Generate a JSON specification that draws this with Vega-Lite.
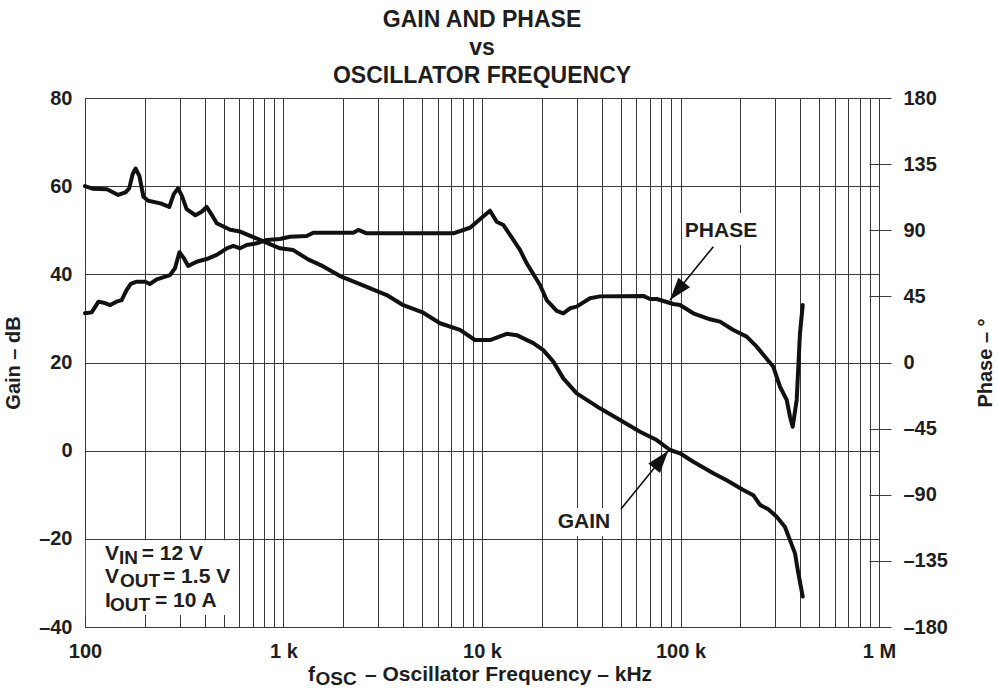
{
  "$schema": "https://vega.github.io/schema/vega-lite/v6.json",
  "width": 794,
  "height": 529,
  "autosize": "none",
  "padding": {"left": 85, "top": 98, "right": 119, "bottom": 62},
  "background": "white",
  "config": {
    "view": {"stroke": "#222", "strokeWidth": 1},
    "font": "Liberation Sans"
  },
  "title": {
    "text": ["GAIN AND PHASE", "vs", "OSCILLATOR FREQUENCY"],
    "font": "Liberation Sans",
    "fontSize": 23,
    "fontWeight": "bold",
    "color": "#1e1e1e",
    "lineHeight": 28,
    "anchor": "middle",
    "frame": "group",
    "offset": 0
  },
  "datasets": {
    "gain": [
      {"f": 100, "g": 60.0}, {"f": 110, "g": 59.4}, {"f": 129, "g": 59.3}, {"f": 147, "g": 58.0},
      {"f": 160, "g": 58.6}, {"f": 167, "g": 59.5}, {"f": 174, "g": 62.8}, {"f": 180, "g": 64.0},
      {"f": 188, "g": 62.3}, {"f": 197, "g": 57.6}, {"f": 208, "g": 56.7}, {"f": 240, "g": 56.1},
      {"f": 266, "g": 55.3}, {"f": 280, "g": 58.2}, {"f": 294, "g": 59.5}, {"f": 307, "g": 57.9},
      {"f": 325, "g": 54.8}, {"f": 360, "g": 53.4}, {"f": 387, "g": 54.2}, {"f": 410, "g": 55.3},
      {"f": 435, "g": 53.5}, {"f": 461, "g": 51.6}, {"f": 538, "g": 50.1}, {"f": 604, "g": 49.7},
      {"f": 761, "g": 47.8}, {"f": 960, "g": 45.9}, {"f": 1120, "g": 45.5}, {"f": 1330, "g": 43.4},
      {"f": 1587, "g": 41.8}, {"f": 1926, "g": 39.6}, {"f": 2429, "g": 37.8}, {"f": 3311, "g": 35.3},
      {"f": 4013, "g": 33.0}, {"f": 5060, "g": 31.3}, {"f": 6143, "g": 28.9}, {"f": 7747, "g": 27.4},
      {"f": 9220, "g": 25.1}, {"f": 10970, "g": 25.1}, {"f": 13320, "g": 26.5}, {"f": 14950, "g": 26.2},
      {"f": 18130, "g": 24.4}, {"f": 20360, "g": 22.8}, {"f": 22870, "g": 20.2}, {"f": 25680, "g": 16.4},
      {"f": 30000, "g": 13.0}, {"f": 39300, "g": 9.6}, {"f": 49580, "g": 6.95}, {"f": 62520, "g": 4.3},
      {"f": 75890, "g": 2.4}, {"f": 88530, "g": 0.15}, {"f": 99430, "g": -0.6}, {"f": 116000, "g": -2.5},
      {"f": 146300, "g": -5.1}, {"f": 170900, "g": -6.7}, {"f": 207200, "g": -8.9}, {"f": 232700, "g": -10.1},
      {"f": 251500, "g": -12.3}, {"f": 276900, "g": -13.3}, {"f": 305200, "g": -15.0}, {"f": 336100, "g": -17.3},
      {"f": 356100, "g": -20.3}, {"f": 377500, "g": -23.3}, {"f": 392200, "g": -27.8}, {"f": 412800, "g": -33.1}
    ],
    "phase": [
      {"f": 100, "p": 33.5}, {"f": 108, "p": 34.1}, {"f": 117, "p": 41.4}, {"f": 124, "p": 40.7},
      {"f": 134, "p": 39.1}, {"f": 144, "p": 41.4}, {"f": 153, "p": 42.5}, {"f": 162, "p": 49.3},
      {"f": 170, "p": 53.5}, {"f": 182, "p": 55.0}, {"f": 201, "p": 55.0}, {"f": 212, "p": 53.4},
      {"f": 230, "p": 56.6}, {"f": 268, "p": 59.5}, {"f": 284, "p": 64.1}, {"f": 299, "p": 75.0},
      {"f": 315, "p": 70.9}, {"f": 331, "p": 65.7}, {"f": 365, "p": 68.6}, {"f": 410, "p": 70.4},
      {"f": 461, "p": 73.2}, {"f": 518, "p": 77.7}, {"f": 559, "p": 79.3}, {"f": 604, "p": 77.7},
      {"f": 653, "p": 80.0}, {"f": 733, "p": 81.1}, {"f": 823, "p": 83.4}, {"f": 960, "p": 84.0},
      {"f": 1078, "p": 85.6}, {"f": 1309, "p": 86.1}, {"f": 1413, "p": 88.3}, {"f": 2247, "p": 88.3},
      {"f": 2381, "p": 90.2}, {"f": 2625, "p": 87.9}, {"f": 7167, "p": 87.9}, {"f": 8700, "p": 91.7},
      {"f": 9965, "p": 98.5}, {"f": 10970, "p": 103.3}, {"f": 11860, "p": 95.8}, {"f": 12800, "p": 93.6},
      {"f": 13840, "p": 86.8}, {"f": 15540, "p": 76.6}, {"f": 16800, "p": 67.5}, {"f": 19600, "p": 52.7},
      {"f": 21180, "p": 42.5}, {"f": 23790, "p": 35.2}, {"f": 25680, "p": 33.5}, {"f": 27750, "p": 36.9},
      {"f": 30000, "p": 38.0}, {"f": 34990, "p": 43.7}, {"f": 39300, "p": 45.0}, {"f": 64960, "p": 45.3},
      {"f": 70200, "p": 43.2}, {"f": 75890, "p": 43.2}, {"f": 91980, "p": 39.8}, {"f": 99430, "p": 39.1},
      {"f": 116000, "p": 33.5}, {"f": 140800, "p": 29.4}, {"f": 158100, "p": 27.8}, {"f": 184500, "p": 22.1},
      {"f": 215500, "p": 17.6}, {"f": 242100, "p": 10.75}, {"f": 293500, "p": -2.9}, {"f": 317200, "p": -16.5},
      {"f": 342800, "p": -25.5}, {"f": 356100, "p": -36.9}, {"f": 367500, "p": -43.7}, {"f": 384900, "p": -25.5},
      {"f": 392200, "p": -2.9}, {"f": 399900, "p": 19.9}, {"f": 412800, "p": 39.1}
    ],
    "boxes": [
      {"f": 101, "f2": 580, "g": -20.3, "g2": -37.3},
      {"f": 23320, "f2": 46780, "g": -13.0, "g2": -19.4},
      {"f": 102900, "f2": 257500, "g": 46.65, "g2": 53.9}
    ],
    "textMain": [
      {"f": 126.1, "g": -24.8, "t": "V"}, {"f": 193.1, "g": -24.8, "t": "= 12 V"},
      {"f": 126.1, "g": -30.0, "t": "V"}, {"f": 247.2, "g": -30.0, "t": "= 1.5 V"},
      {"f": 126.1, "g": -35.5, "t": "I"}, {"f": 225.2, "g": -35.5, "t": "= 10 A"},
      {"f": 1328, "g": -52.3, "t": "f"}, {"f": 2574, "g": -52.3, "t": "– Oscillator Frequency – kHz"}
    ],
    "textSub": [
      {"f": 148.3, "g": -24.8, "t": "IN"}, {"f": 150.1, "g": -30.0, "t": "OUT"},
      {"f": 133.6, "g": -35.5, "t": "OUT"}, {"f": 1450, "g": -52.3, "t": "OSC"}
    ],
    "labels": [
      {"f": 32660, "g": -17.55, "t": "GAIN"}, {"f": 160000, "g": 48.47, "t": "PHASE"}
    ],
    "arrows": [
      {"f": 50150, "g": -13.24, "f2": 86800, "g2": -0.01},
      {"f": 146300, "g": 46.27, "f2": 88530, "g2": 34.18}
    ],
    "headGain": [{"f": 86800, "g": -0.01}],
    "headPhase": [{"f": 88530, "g": 34.18}]
  },
  "encoding": {
    "x": {
      "field": "f", "type": "quantitative",
      "scale": {"type": "log", "domain": [100, 1000000]},
      "axis": {
        "values": [100, 200, 300, 400, 500, 600, 700, 800, 900,
                   1000, 2000, 3000, 4000, 5000, 6000, 7000, 8000, 9000,
                   10000, 20000, 30000, 40000, 50000, 60000, 70000, 80000, 90000,
                   100000, 200000, 300000, 400000, 500000, 600000, 700000, 800000, 900000, 1000000],
        "labelExpr": "datum.value == 100 ? '100' : datum.value == 1000 ? '1 k' : datum.value == 10000 ? '10 k' : datum.value == 100000 ? '100 k' : datum.value == 1000000 ? '1 M' : ''",
        "grid": true, "gridColor": "#3a3a3a", "gridWidth": 1,
        "ticks": false, "domain": false,
        "labelPadding": 14, "labelFont": "Liberation Sans", "labelFontSize": 20,
        "labelFontWeight": "bold", "labelColor": "#1e1e1e",
        "labelOverlap": false, "labelFlush": false, "labelBound": false,
        "title": null
      }
    }
  },
  "layer": [
    {
      "encoding": {
        "y": {
          "field": "g", "type": "quantitative",
          "scale": {"domain": [-40, 80], "nice": false, "zero": false},
          "axis": {
            "values": [-40, -20, 0, 20, 40, 60, 80],
            "labelExpr": "datum.value < 0 ? '–' + abs(datum.value) : '' + datum.value",
            "grid": true, "gridColor": "#3a3a3a", "gridWidth": 1,
            "ticks": false, "domain": false,
            "labelPadding": 13, "labelFont": "Liberation Sans", "labelFontSize": 20,
            "labelFontWeight": "bold", "labelColor": "#1e1e1e",
            "title": "Gain – dB", "titleFont": "Liberation Sans", "titleFontSize": 20,
            "titleFontWeight": "bold", "titleColor": "#1e1e1e", "titlePadding": 15
          }
        }
      },
      "layer": [
        {
          "data": {"name": "boxes"},
          "mark": {"type": "rect", "fill": "white", "stroke": null},
          "encoding": {"x2": {"field": "f2"}, "y2": {"field": "g2"}}
        },
        {
          "data": {"name": "gain"},
          "mark": {"type": "line", "color": "#111", "strokeWidth": 4, "strokeJoin": "round", "strokeCap": "round"}
        },
        {
          "data": {"name": "arrows"},
          "mark": {"type": "rule", "color": "#111", "strokeWidth": 1.6},
          "encoding": {"x2": {"field": "f2"}, "y2": {"field": "g2"}}
        },
        {
          "data": {"name": "headGain"},
          "mark": {"type": "point", "shape": "M0,0L-0.5,1.5L0.5,1.5Z", "filled": true, "color": "#111", "opacity": 1, "size": 900, "angle": 39}
        },
        {
          "data": {"name": "headPhase"},
          "mark": {"type": "point", "shape": "M0,0L-0.5,1.5L0.5,1.5Z", "filled": true, "color": "#111", "opacity": 1, "size": 900, "angle": 219}
        },
        {
          "data": {"name": "textMain"},
          "mark": {"type": "text", "align": "left", "baseline": "alphabetic", "font": "Liberation Sans", "fontSize": 21, "fontWeight": "bold", "color": "#1e1e1e"},
          "encoding": {"text": {"field": "t"}}
        },
        {
          "data": {"name": "textSub"},
          "mark": {"type": "text", "align": "left", "baseline": "alphabetic", "dy": 4, "font": "Liberation Sans", "fontSize": 19, "fontWeight": "bold", "color": "#1e1e1e"},
          "encoding": {"text": {"field": "t"}}
        },
        {
          "data": {"name": "labels"},
          "mark": {"type": "text", "align": "center", "baseline": "alphabetic", "font": "Liberation Sans", "fontSize": 21, "fontWeight": "bold", "color": "#1e1e1e"},
          "encoding": {"text": {"field": "t"}}
        }
      ]
    },
    {
      "data": {"name": "phase"},
      "mark": {"type": "line", "color": "#111", "strokeWidth": 4, "strokeJoin": "round", "strokeCap": "round"},
      "encoding": {
        "y": {
          "field": "p", "type": "quantitative",
          "scale": {"domain": [-180, 180], "nice": false, "zero": false},
          "axis": {
            "orient": "right",
            "values": [-180, -135, -90, -45, 0, 45, 90, 135, 180],
            "labelExpr": "datum.value < 0 ? '–' + abs(datum.value) : '' + datum.value",
            "grid": false, "domain": false,
            "ticks": true, "tickSize": 22, "tickColor": "#3a3a3a", "tickWidth": 1,
            "offset": -10,
            "labelPadding": 12, "labelFont": "Liberation Sans", "labelFontSize": 20,
            "labelFontWeight": "bold", "labelColor": "#1e1e1e",
            "title": "Phase – °", "titleFont": "Liberation Sans", "titleFontSize": 20,
            "titleFontWeight": "bold", "titleColor": "#1e1e1e", "titleAngle": 270, "titlePadding": 48
          }
        }
      }
    }
  ],
  "resolve": {"scale": {"y": "independent"}}
}
